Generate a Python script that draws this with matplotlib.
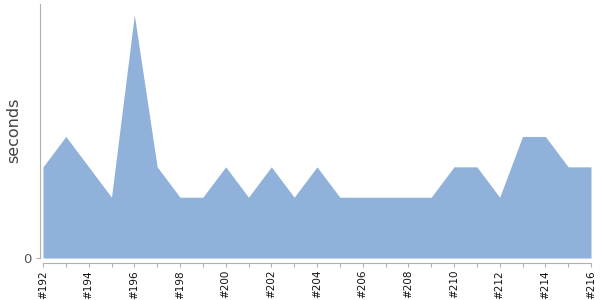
import matplotlib
matplotlib.use("Agg")
import matplotlib.pyplot as plt
import numpy as np

builds = [f"#{n}" for n in range(192, 217)]
seconds = [3, 4, 3, 2, 8, 3, 2, 2, 3, 2, 3, 2, 3, 2, 2, 2, 2, 2, 3, 3, 2, 4, 4, 3, 3]

fig = plt.figure(figsize=(6, 3), dpi=100)
ax = fig.add_axes([43/600, 1-258/300, 548/600, 254/300])
x = np.arange(len(builds))
ax.fill_between(x, seconds, 0, color="#8fb1da", linewidth=0)
ax.set_xlim(0, len(builds)-1)
ax.set_ylim(0, 8.36)

for s in ["top", "right"]:
    ax.spines[s].set_visible(False)
ax.spines["left"].set_position(("outward", 2.5))
ax.spines["bottom"].set_position(("outward", 3.6))
ax.spines["left"].set_color("#b0b0b0")
ax.spines["bottom"].set_color("#b0b0b0")

ax.set_xticks(x)
ax.set_xticklabels([b if i % 2 == 0 else "" for i, b in enumerate(builds)],
                   rotation=90, fontsize=7.5, color="#111111")
ax.tick_params(axis="x", length=3, color="#b0b0b0", pad=2)
ax.set_yticks([0])
ax.set_yticklabels(["0"], fontsize=9.5, color="#555555")
ax.tick_params(axis="y", length=3, color="#b0b0b0", pad=3)
fig.text(14/600, 1-130/300, "seconds", rotation=90, fontsize=11.5,
         color="#444444", ha="center", va="center")

fig.savefig("out.png", dpi=100)
